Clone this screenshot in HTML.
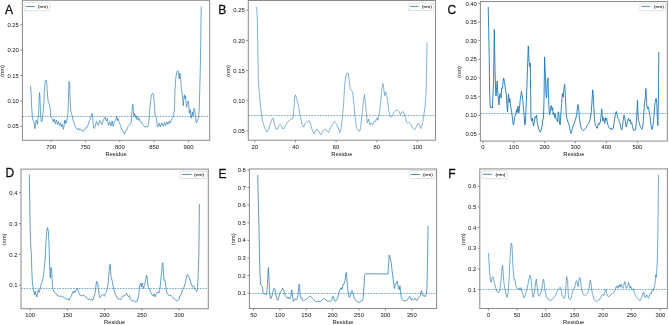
<!DOCTYPE html>
<html><head><meta charset="utf-8"><title>RMSF plots</title>
<style>
html,body{margin:0;padding:0;background:#fff;}
body{width:669px;height:325px;overflow:hidden;}
svg{display:block;will-change:transform;font-family:"Liberation Sans",sans-serif;fill:#111;}
svg text{fill:#111;}
</style></head><body>
<svg width="669" height="325" viewBox="0 0 669 325">
<rect width="669" height="325" fill="#fff"/>
<g><polyline points="30.50,86.10 31.20,95.00 31.70,108.00 32.40,116.80 33.00,120.43 33.70,121.56 34.40,124.14 34.90,128.79 35.60,123.61 36.20,120.15 36.80,121.65 37.40,124.28 38.10,118.20 38.70,112.10 39.10,100.00 39.50,92.60 39.90,96.00 40.20,103.45 40.70,116.10 41.40,121.90 42.20,120.20 42.90,114.80 43.50,106.62 44.00,100.84 44.40,89.80 45.30,80.50 46.30,80.34 46.80,83.30 47.20,89.75 47.60,96.12 48.30,102.70 49.20,103.19 49.90,107.29 50.50,110.87 50.80,116.75 51.70,118.21 52.60,119.13 53.20,122.03 54.10,119.02 55.30,123.77 56.30,119.95 57.50,124.55 58.60,121.58 59.70,125.78 60.60,123.17 61.50,126.92 62.40,124.45 63.40,129.24 64.10,125.88 64.60,120.24 65.20,123.55 65.80,120.63 66.40,122.54 67.10,118.96 67.50,116.84 68.00,112.50 68.40,100.60 69.00,81.50 69.70,84.20 70.10,100.00 70.70,109.70 71.50,114.35 72.20,116.03 72.90,119.57 73.60,121.53 74.40,124.27 75.30,126.47 76.10,128.38 77.00,128.92 77.80,129.77 78.70,128.13 79.60,129.93 80.50,129.40 81.50,129.80 82.40,131.00 83.30,131.60 84.20,129.82 85.20,129.08 86.10,127.43 87.00,127.45 87.90,125.45 88.90,122.42 89.80,120.20 90.70,117.90 91.40,115.31 92.10,113.39 92.50,115.15 93.10,123.70 93.70,127.99 94.40,128.55 95.00,126.60 96.50,121.40 98.20,125.30 99.90,120.40 101.90,124.60 103.40,120.10 105.10,116.90 105.80,119.53 106.60,121.00 107.30,118.38 108.50,125.40 109.80,121.92 111.00,125.92 112.20,120.82 113.20,126.43 114.40,121.67 115.70,120.00 116.50,116.42 117.30,120.65 118.10,118.27 118.80,121.30 120.40,125.40 121.90,129.60 123.30,131.50 124.40,134.03 125.40,131.95 126.50,130.02 127.50,127.87 128.00,126.50 129.40,125.12 130.30,124.15 131.20,122.20 131.70,116.60 132.40,105.50 132.80,104.20 133.20,106.43 133.50,113.90 134.00,115.70 134.50,113.32 134.90,115.09 135.40,116.96 135.80,115.11 136.30,118.37 136.80,119.53 137.20,116.59 138.00,118.42 138.60,120.30 139.10,118.59 140.00,120.88 140.90,122.37 141.90,122.35 142.80,124.67 143.70,125.32 144.60,126.97 145.50,127.42 146.50,126.07 147.40,127.12 148.10,125.70 148.80,122.20 149.40,114.80 150.00,107.40 150.50,101.00 151.30,96.17 152.20,93.67 152.70,93.17 153.60,95.00 154.30,104.29 154.80,111.53 155.20,116.29 155.90,117.24 156.40,117.46 157.30,126.70 158.20,126.32 159.20,123.03 160.30,126.92 161.90,123.10 163.10,126.10 164.50,122.50 165.40,125.50 167.00,121.88 167.90,124.42 169.30,121.10 170.20,123.20 171.20,120.08 172.30,118.55 173.10,117.51 173.70,114.40 174.20,111.06 174.60,105.39 175.00,89.00 176.00,75.83 177.00,71.33 178.00,71.00 178.60,73.88 179.20,79.00 179.80,73.00 180.40,75.00 181.00,84.39 181.40,89.90 182.30,94.20 182.90,101.55 183.30,105.90 183.90,97.88 184.40,94.80 185.00,98.74 185.60,96.10 186.10,102.80 186.60,107.20 187.40,103.30 188.10,101.00 188.80,105.88 189.30,113.30 189.80,109.76 190.30,109.60 190.80,116.87 191.30,118.20 191.90,114.11 192.50,111.84 193.00,116.45 193.60,111.12 194.20,108.28 194.90,111.55 195.50,116.46 196.10,122.01 196.70,122.89 197.40,120.72 198.10,118.51 198.70,115.80 199.20,109.60 199.50,98.68 199.90,85.00 200.40,63.88 200.80,40.00 201.20,6.50" fill="none" stroke="#1f77b4" stroke-width="0.65" stroke-linejoin="round"/><line x1="22.4" y1="116.5" x2="209.7" y2="116.5" stroke="#1f77b4" stroke-width="0.62" stroke-dasharray="1.6 1.15"/><rect x="22.4" y="0.3" width="187.30" height="140.00" fill="none" stroke="#8a8a8a" stroke-width="1.0"/><line x1="20.40" y1="126.20" x2="22.4" y2="126.20" stroke="#8a8a8a" stroke-width="1.0"/><text x="18.90" y="128.31" text-anchor="end" font-size="5.9">0.05</text><line x1="20.40" y1="100.80" x2="22.4" y2="100.80" stroke="#8a8a8a" stroke-width="1.0"/><text x="18.90" y="102.91" text-anchor="end" font-size="5.9">0.10</text><line x1="20.40" y1="75.45" x2="22.4" y2="75.45" stroke="#8a8a8a" stroke-width="1.0"/><text x="18.90" y="77.56" text-anchor="end" font-size="5.9">0.15</text><line x1="20.40" y1="50.10" x2="22.4" y2="50.10" stroke="#8a8a8a" stroke-width="1.0"/><text x="18.90" y="52.21" text-anchor="end" font-size="5.9">0.20</text><line x1="20.40" y1="24.70" x2="22.4" y2="24.70" stroke="#8a8a8a" stroke-width="1.0"/><text x="18.90" y="26.81" text-anchor="end" font-size="5.9">0.25</text><line x1="51.10" y1="140.3" x2="51.10" y2="142.30" stroke="#8a8a8a" stroke-width="1.0"/><text x="51.10" y="148.7" text-anchor="middle" font-size="5.9">700</text><line x1="85.45" y1="140.3" x2="85.45" y2="142.30" stroke="#8a8a8a" stroke-width="1.0"/><text x="85.45" y="148.7" text-anchor="middle" font-size="5.9">750</text><line x1="119.80" y1="140.3" x2="119.80" y2="142.30" stroke="#8a8a8a" stroke-width="1.0"/><text x="119.80" y="148.7" text-anchor="middle" font-size="5.9">800</text><line x1="154.15" y1="140.3" x2="154.15" y2="142.30" stroke="#8a8a8a" stroke-width="1.0"/><text x="154.15" y="148.7" text-anchor="middle" font-size="5.9">850</text><line x1="188.50" y1="140.3" x2="188.50" y2="142.30" stroke="#8a8a8a" stroke-width="1.0"/><text x="188.50" y="148.7" text-anchor="middle" font-size="5.9">900</text><text x="116.05" y="156.1" text-anchor="middle" font-size="5.75">Residue</text><text transform="translate(3.5,70.90) rotate(-90)" x="0" y="0" text-anchor="middle" font-size="5.75">(nm)</text><text transform="translate(4.95,14.1) scale(0.95,1)" font-size="12.7" fill="#000" stroke="#000" stroke-width="0.25">A</text><rect x="24.2" y="2.4" width="25.60" height="8.30" rx="0.8" fill="#fff" fill-opacity="0.8" stroke="#cccccc" stroke-width="0.6"/><line x1="25.8" y1="6.5" x2="34.9" y2="6.5" stroke="#1f77b4" stroke-width="0.8"/><text transform="translate(38.0,8.00) scale(1.25,1)" font-size="3.85" fill="#333" stroke="#333" stroke-width="0.06">(nm)</text></g>
<g><polyline points="256.60,6.90 257.40,20.00 258.30,80.00 259.20,91.10 260.20,104.00 261.50,115.10 262.90,122.50 264.80,128.10 267.00,132.10 268.50,129.90 270.30,123.40 272.20,118.80 273.10,117.90 274.40,124.40 275.90,129.00 277.40,129.00 278.70,125.30 279.90,124.40 281.40,125.80 282.90,129.00 284.20,128.40 285.50,125.80 287.00,122.90 288.80,121.00 290.70,119.20 292.90,118.40 294.00,107.70 294.70,97.60 295.50,94.80 296.60,98.50 298.10,104.00 299.50,112.30 300.80,118.80 302.10,124.40 303.60,127.10 305.10,123.40 306.40,122.10 307.70,121.60 309.10,120.70 310.60,124.40 311.90,129.00 313.80,133.60 315.60,130.80 316.90,129.00 318.40,130.80 319.90,133.60 321.20,134.50 323.00,130.80 324.90,129.00 327.00,130.90 328.70,132.60 330.40,127.70 332.40,124.50 334.40,121.50 336.10,123.50 337.80,126.50 339.80,132.60 341.00,128.90 342.20,119.10 343.50,105.50 344.70,84.60 345.90,76.00 347.20,72.80 348.40,73.50 349.10,79.70 350.10,88.30 351.60,90.80 352.60,92.00 354.00,104.30 355.00,116.60 356.30,126.00 357.70,130.20 359.50,131.40 360.70,127.70 361.90,115.40 363.20,103.10 364.40,94.50 365.40,101.80 366.40,112.90 367.30,122.80 368.80,119.10 370.00,125.20 371.30,122.80 373.00,124.50 374.20,121.00 375.50,121.50 376.70,117.80 377.90,120.30 379.20,114.20 380.40,105.50 381.60,92.00 382.80,83.40 383.60,87.10 384.60,95.70 385.80,92.00 387.00,96.90 388.00,104.30 389.00,111.70 390.20,116.60 391.50,117.00 392.70,115.40 393.90,112.20 395.90,110.50 397.30,110.00 398.80,111.50 400.40,114.60 401.90,112.30 403.00,111.50 404.20,113.80 405.50,117.70 406.50,122.30 407.60,123.50 408.80,122.30 410.40,123.80 411.60,126.20 413.20,128.50 414.70,129.70 415.80,127.70 417.30,124.60 418.40,123.10 419.60,125.40 420.80,128.50 421.90,126.20 423.00,120.80 423.90,114.60 425.00,106.90 425.80,97.70 426.20,90.00 427.00,42.40" fill="none" stroke="#1f77b4" stroke-width="0.55" stroke-linejoin="round"/><line x1="248.3" y1="115.5" x2="435.45" y2="115.5" stroke="#1f77b4" stroke-width="0.62" stroke-dasharray="1.6 1.15"/><rect x="248.3" y="0.5" width="187.15" height="139.70" fill="none" stroke="#8a8a8a" stroke-width="1.0"/><line x1="246.30" y1="10.20" x2="248.3" y2="10.20" stroke="#8a8a8a" stroke-width="1.0"/><text x="244.80" y="12.31" text-anchor="end" font-size="5.9">0.25</text><line x1="246.30" y1="40.40" x2="248.3" y2="40.40" stroke="#8a8a8a" stroke-width="1.0"/><text x="244.80" y="42.51" text-anchor="end" font-size="5.9">0.20</text><line x1="246.30" y1="70.60" x2="248.3" y2="70.60" stroke="#8a8a8a" stroke-width="1.0"/><text x="244.80" y="72.71" text-anchor="end" font-size="5.9">0.15</text><line x1="246.30" y1="100.80" x2="248.3" y2="100.80" stroke="#8a8a8a" stroke-width="1.0"/><text x="244.80" y="102.91" text-anchor="end" font-size="5.9">0.10</text><line x1="246.30" y1="131.00" x2="248.3" y2="131.00" stroke="#8a8a8a" stroke-width="1.0"/><text x="244.80" y="133.11" text-anchor="end" font-size="5.9">0.05</text><line x1="254.80" y1="140.2" x2="254.80" y2="142.20" stroke="#8a8a8a" stroke-width="1.0"/><text x="254.80" y="148.7" text-anchor="middle" font-size="5.9">20</text><line x1="295.45" y1="140.2" x2="295.45" y2="142.20" stroke="#8a8a8a" stroke-width="1.0"/><text x="295.45" y="148.7" text-anchor="middle" font-size="5.9">40</text><line x1="336.10" y1="140.2" x2="336.10" y2="142.20" stroke="#8a8a8a" stroke-width="1.0"/><text x="336.10" y="148.7" text-anchor="middle" font-size="5.9">60</text><line x1="376.75" y1="140.2" x2="376.75" y2="142.20" stroke="#8a8a8a" stroke-width="1.0"/><text x="376.75" y="148.7" text-anchor="middle" font-size="5.9">80</text><line x1="417.40" y1="140.2" x2="417.40" y2="142.20" stroke="#8a8a8a" stroke-width="1.0"/><text x="417.40" y="148.7" text-anchor="middle" font-size="5.9">100</text><text x="341.88" y="156.1" text-anchor="middle" font-size="5.75">Residue</text><text transform="translate(229.5,70.95) rotate(-90)" x="0" y="0" text-anchor="middle" font-size="5.75">(nm)</text><text transform="translate(218.15,14.1) scale(0.95,1)" font-size="12.7" fill="#000" stroke="#000" stroke-width="0.25">B</text><rect x="408.4" y="3.1" width="25.10" height="7.40" rx="0.8" fill="#fff" fill-opacity="0.8" stroke="#cccccc" stroke-width="0.6"/><line x1="409.8" y1="6.4" x2="418.7" y2="6.4" stroke="#1f77b4" stroke-width="0.8"/><text transform="translate(421.9,7.90) scale(1.25,1)" font-size="3.85" fill="#333" stroke="#333" stroke-width="0.06">(nm)</text></g>
<g><polyline points="488.20,6.90 488.70,30.00 488.90,42.20 489.20,55.08 489.60,90.00 490.00,104.00 490.60,108.00 491.60,106.83 492.40,108.00 493.00,94.00 493.60,80.54 494.30,29.40 495.00,69.66 495.60,90.00 496.00,96.00 496.60,87.75 497.20,81.00 497.60,90.06 498.40,100.00 499.00,105.00 499.60,95.31 500.40,93.50 501.00,98.00 501.70,88.00 502.40,88.42 503.00,83.00 503.70,78.00 504.40,81.50 505.00,86.00 505.60,90.44 506.40,95.00 507.00,106.69 507.60,112.00 508.00,99.30 508.60,94.00 509.20,102.50 509.80,98.35 510.40,104.95 511.00,108.00 511.60,111.90 512.20,115.90 512.80,121.45 513.40,125.00 514.00,122.12 514.60,117.50 515.40,115.25 516.00,113.12 516.60,109.38 517.20,112.44 518.00,106.00 518.60,113.00 519.20,111.00 520.00,101.75 520.80,95.88 521.40,91.40 522.20,95.88 523.00,101.83 523.60,110.00 524.40,119.00 524.80,125.00 525.40,122.00 526.00,110.00 526.60,94.05 527.20,77.86 527.60,65.00 528.30,45.90 529.00,60.25 529.60,67.00 530.30,63.10 530.60,89.55 531.00,118.00 531.60,121.00 532.40,118.00 533.00,123.17 533.60,126.00 534.40,120.92 535.20,116.58 536.00,117.94 536.60,115.33 537.20,122.38 538.00,126.08 538.80,129.08 539.60,131.08 540.40,132.25 541.20,130.17 542.00,126.17 542.80,120.00 543.40,118.00 544.00,100.32 544.60,56.90 545.60,81.82 546.00,94.00 546.60,98.00 547.20,82.00 548.00,77.90 548.40,91.45 548.80,104.00 549.40,115.00 550.00,114.00 550.60,107.31 551.40,105.50 552.00,110.12 552.60,107.62 553.20,114.69 554.00,112.58 554.60,117.50 555.40,114.50 556.00,119.25 556.80,119.92 557.60,122.00 558.20,112.00 558.70,111.90 559.50,123.00 560.20,124.80 561.00,111.59 561.70,102.70 562.40,93.50 563.20,97.10 563.90,89.66 564.60,84.20 565.40,95.30 565.90,108.20 566.50,117.40 567.20,119.23 568.00,122.07 568.70,123.83 569.40,126.62 570.20,130.48 570.90,133.47 571.70,131.38 572.40,128.50 573.10,125.62 573.90,123.91 574.60,122.07 575.50,119.38 576.50,115.75 577.20,110.11 577.90,104.50 578.70,107.74 579.40,117.70 580.10,123.08 581.10,127.83 582.00,129.47 582.90,130.52 583.80,130.02 584.80,129.43 585.70,128.57 586.60,126.71 587.50,124.72 588.40,123.98 589.40,122.14 590.30,118.64 591.20,112.12 591.90,103.01 592.70,89.80 593.20,93.50 593.80,108.20 594.50,119.30 595.30,125.35 596.30,126.49 597.10,128.42 597.80,125.80 598.60,123.25 599.40,124.45 600.20,122.09 600.90,117.62 601.70,108.80 602.30,115.76 602.90,121.20 603.50,117.71 604.20,120.54 604.80,123.39 605.40,117.60 606.00,120.41 606.60,118.33 607.20,122.04 607.80,124.54 608.60,126.56 609.40,128.17 610.20,128.92 610.90,127.92 611.70,129.79 612.50,128.79 613.20,128.42 614.00,123.57 614.80,118.03 615.50,113.25 616.30,111.51 617.10,115.00 617.80,118.23 618.60,119.53 619.40,121.90 620.20,124.07 620.90,128.30 621.70,129.98 622.50,126.75 623.20,120.28 624.00,115.22 624.80,117.91 625.50,122.77 626.30,127.07 627.10,123.51 627.80,120.30 628.60,118.13 629.40,121.29 630.20,119.62 630.90,123.83 631.70,122.67 632.50,126.54 633.20,129.64 633.90,130.98 634.80,129.89 635.60,129.74 636.50,120.60 637.00,110.30 637.50,100.30 638.00,113.88 638.50,120.60 639.20,122.47 639.80,125.11 640.50,126.76 641.20,128.27 641.90,129.32 642.60,127.40 643.20,122.72 643.90,112.10 644.60,102.53 645.30,97.11 645.80,88.50 646.30,96.30 646.80,105.40 647.50,108.80 648.10,106.75 648.80,109.54 649.50,113.21 650.20,117.47 650.80,123.72 651.50,128.14 652.20,129.53 652.90,125.84 653.60,120.60 654.20,112.09 654.90,103.70 655.60,99.03 656.30,98.60 656.80,103.70 657.30,117.20 657.80,125.70 658.30,107.10 658.60,80.00 658.80,52.00" fill="none" stroke="#1f77b4" stroke-width="0.9" stroke-linejoin="round"/><line x1="480.4" y1="113.5" x2="667.3" y2="113.5" stroke="#1f77b4" stroke-width="0.62" stroke-dasharray="1.6 1.15"/><rect x="480.4" y="1.5" width="186.90" height="139.60" fill="none" stroke="#8a8a8a" stroke-width="1.0"/><line x1="478.40" y1="3.40" x2="480.4" y2="3.40" stroke="#8a8a8a" stroke-width="1.0"/><text x="476.90" y="5.51" text-anchor="end" font-size="5.9">0.40</text><line x1="478.40" y1="22.06" x2="480.4" y2="22.06" stroke="#8a8a8a" stroke-width="1.0"/><text x="476.90" y="24.17" text-anchor="end" font-size="5.9">0.35</text><line x1="478.40" y1="40.72" x2="480.4" y2="40.72" stroke="#8a8a8a" stroke-width="1.0"/><text x="476.90" y="42.83" text-anchor="end" font-size="5.9">0.30</text><line x1="478.40" y1="59.38" x2="480.4" y2="59.38" stroke="#8a8a8a" stroke-width="1.0"/><text x="476.90" y="61.49" text-anchor="end" font-size="5.9">0.25</text><line x1="478.40" y1="78.04" x2="480.4" y2="78.04" stroke="#8a8a8a" stroke-width="1.0"/><text x="476.90" y="80.15" text-anchor="end" font-size="5.9">0.20</text><line x1="478.40" y1="96.70" x2="480.4" y2="96.70" stroke="#8a8a8a" stroke-width="1.0"/><text x="476.90" y="98.81" text-anchor="end" font-size="5.9">0.15</text><line x1="478.40" y1="115.36" x2="480.4" y2="115.36" stroke="#8a8a8a" stroke-width="1.0"/><text x="476.90" y="117.47" text-anchor="end" font-size="5.9">0.10</text><line x1="478.40" y1="134.02" x2="480.4" y2="134.02" stroke="#8a8a8a" stroke-width="1.0"/><text x="476.90" y="136.13" text-anchor="end" font-size="5.9">0.05</text><line x1="482.90" y1="141.1" x2="482.90" y2="143.10" stroke="#8a8a8a" stroke-width="1.0"/><text x="482.90" y="148.7" text-anchor="middle" font-size="5.9">0</text><line x1="513.78" y1="141.1" x2="513.78" y2="143.10" stroke="#8a8a8a" stroke-width="1.0"/><text x="513.78" y="148.7" text-anchor="middle" font-size="5.9">100</text><line x1="544.66" y1="141.1" x2="544.66" y2="143.10" stroke="#8a8a8a" stroke-width="1.0"/><text x="544.66" y="148.7" text-anchor="middle" font-size="5.9">200</text><line x1="575.54" y1="141.1" x2="575.54" y2="143.10" stroke="#8a8a8a" stroke-width="1.0"/><text x="575.54" y="148.7" text-anchor="middle" font-size="5.9">300</text><line x1="606.42" y1="141.1" x2="606.42" y2="143.10" stroke="#8a8a8a" stroke-width="1.0"/><text x="606.42" y="148.7" text-anchor="middle" font-size="5.9">400</text><line x1="637.30" y1="141.1" x2="637.30" y2="143.10" stroke="#8a8a8a" stroke-width="1.0"/><text x="637.30" y="148.7" text-anchor="middle" font-size="5.9">500</text><text x="573.85" y="156.1" text-anchor="middle" font-size="5.75">Residue</text><text transform="translate(461.2,71.90) rotate(-90)" x="0" y="0" text-anchor="middle" font-size="5.75">(nm)</text><text transform="translate(447.55,14.4) scale(0.95,1)" font-size="12.7" fill="#000" stroke="#000" stroke-width="0.25">C</text><rect x="640.0" y="3.2" width="25.60" height="7.40" rx="0.8" fill="#fff" fill-opacity="0.8" stroke="#cccccc" stroke-width="0.6"/><line x1="641.4" y1="6.4" x2="650.3" y2="6.4" stroke="#1f77b4" stroke-width="0.8"/><text transform="translate(654.0,7.90) scale(1.25,1)" font-size="3.85" fill="#333" stroke="#333" stroke-width="0.06">(nm)</text></g>
<g><polyline points="29.30,174.20 30.20,230.00 30.80,247.10 31.40,254.30 31.80,270.40 32.50,284.20 33.40,288.64 34.50,295.00 35.20,291.36 36.00,294.20 36.80,297.03 37.50,293.51 38.30,289.94 39.10,292.28 39.80,289.75 40.60,285.65 41.40,283.43 42.20,282.05 42.90,279.02 43.70,273.74 44.50,265.80 45.20,258.94 46.00,241.59 46.80,230.00 47.60,227.60 48.40,231.44 48.90,241.70 49.80,270.40 50.30,278.10 50.90,267.95 51.40,267.30 51.80,273.39 52.50,285.80 53.10,289.75 54.00,292.05 55.20,292.63 56.50,294.19 57.50,295.94 58.60,296.00 59.80,296.23 61.30,296.20 62.90,296.80 64.50,297.71 65.70,298.34 66.80,299.80 67.80,298.61 69.10,300.22 70.30,297.79 71.40,295.83 72.20,293.43 72.90,291.66 73.70,292.93 74.50,290.97 75.20,292.24 76.00,290.40 76.80,288.67 77.50,288.20 78.30,291.24 79.10,293.55 80.20,295.43 81.40,295.90 82.60,295.23 84.20,295.70 85.20,296.49 86.30,297.27 87.20,298.39 88.30,299.80 89.40,298.61 90.60,300.04 91.80,299.54 92.90,300.27 94.00,296.46 94.90,293.97 96.00,285.69 96.50,281.37 97.10,283.18 97.70,283.27 98.30,288.33 99.10,294.50 99.80,297.69 101.10,296.60 102.20,294.49 103.20,294.95 104.50,296.11 105.40,293.50 106.50,291.28 107.40,288.33 108.20,282.70 108.90,273.97 109.50,267.30 110.20,264.20 110.60,270.64 111.10,276.50 112.00,280.25 113.10,285.88 114.20,290.48 115.40,294.77 116.90,297.30 118.50,299.38 119.70,298.70 120.80,299.55 121.80,297.25 122.80,295.61 123.80,296.33 124.60,295.27 125.80,294.76 126.50,293.20 127.40,295.36 128.50,296.69 129.50,295.43 130.50,298.94 131.50,300.64 133.10,300.80 134.60,301.20 136.20,302.12 137.20,300.48 138.20,298.10 138.80,294.26 139.40,287.24 140.00,284.20 140.80,283.13 141.50,287.10 142.20,282.97 142.80,285.80 143.50,288.56 144.30,285.80 144.90,283.66 145.70,279.67 146.50,275.00 147.10,276.84 147.70,284.20 148.50,287.53 149.20,287.95 150.00,290.40 150.80,292.70 152.00,295.15 153.10,296.04 154.20,293.81 155.10,296.96 156.20,294.12 157.20,292.63 158.20,291.74 158.90,293.01 159.70,290.40 160.30,285.80 160.90,278.78 161.50,272.82 162.30,264.20 162.80,262.70 163.40,270.08 164.00,280.40 164.60,279.59 165.20,281.89 165.80,286.15 166.50,291.51 167.40,293.58 168.50,295.23 170.00,295.23 171.10,295.75 172.30,296.77 173.50,298.11 174.60,299.36 175.70,299.87 176.90,301.01 178.20,299.56 179.20,298.96 179.70,296.04 181.20,294.30 182.50,290.00 184.00,287.18 185.10,283.61 186.20,279.20 187.20,274.36 188.30,275.90 189.40,277.99 190.50,281.29 191.60,284.72 192.60,286.95 193.70,286.00 194.80,288.99 195.90,290.68 196.90,291.50 197.60,287.80 198.20,273.80 198.90,252.20 199.40,204.10" fill="none" stroke="#1f77b4" stroke-width="0.7" stroke-linejoin="round"/><line x1="21.0" y1="288.5" x2="208.3" y2="288.5" stroke="#1f77b4" stroke-width="0.62" stroke-dasharray="1.6 1.15"/><rect x="21.0" y="169.1" width="187.30" height="139.60" fill="none" stroke="#8a8a8a" stroke-width="1.0"/><line x1="19.00" y1="192.80" x2="21.0" y2="192.80" stroke="#8a8a8a" stroke-width="1.0"/><text x="17.50" y="194.91" text-anchor="end" font-size="5.9">0.4</text><line x1="19.00" y1="223.60" x2="21.0" y2="223.60" stroke="#8a8a8a" stroke-width="1.0"/><text x="17.50" y="225.71" text-anchor="end" font-size="5.9">0.3</text><line x1="19.00" y1="254.40" x2="21.0" y2="254.40" stroke="#8a8a8a" stroke-width="1.0"/><text x="17.50" y="256.51" text-anchor="end" font-size="5.9">0.2</text><line x1="19.00" y1="285.20" x2="21.0" y2="285.20" stroke="#8a8a8a" stroke-width="1.0"/><text x="17.50" y="287.31" text-anchor="end" font-size="5.9">0.1</text><line x1="30.20" y1="308.7" x2="30.20" y2="310.70" stroke="#8a8a8a" stroke-width="1.0"/><text x="30.20" y="317.0" text-anchor="middle" font-size="5.9">100</text><line x1="67.45" y1="308.7" x2="67.45" y2="310.70" stroke="#8a8a8a" stroke-width="1.0"/><text x="67.45" y="317.0" text-anchor="middle" font-size="5.9">150</text><line x1="104.70" y1="308.7" x2="104.70" y2="310.70" stroke="#8a8a8a" stroke-width="1.0"/><text x="104.70" y="317.0" text-anchor="middle" font-size="5.9">200</text><line x1="141.95" y1="308.7" x2="141.95" y2="310.70" stroke="#8a8a8a" stroke-width="1.0"/><text x="141.95" y="317.0" text-anchor="middle" font-size="5.9">250</text><line x1="179.20" y1="308.7" x2="179.20" y2="310.70" stroke="#8a8a8a" stroke-width="1.0"/><text x="179.20" y="317.0" text-anchor="middle" font-size="5.9">300</text><text x="114.65" y="324.4" text-anchor="middle" font-size="5.75">Residue</text><text transform="translate(5.8,239.50) rotate(-90)" x="0" y="0" text-anchor="middle" font-size="5.75">(nm)</text><text transform="translate(5.40,176.9) scale(0.95,1)" font-size="12.7" fill="#000" stroke="#000" stroke-width="0.25">D</text><rect x="180.0" y="171.0" width="26.70" height="7.50" rx="0.8" fill="#fff" fill-opacity="0.8" stroke="#cccccc" stroke-width="0.6"/><line x1="181.9" y1="174.4" x2="191.7" y2="174.4" stroke="#1f77b4" stroke-width="0.8"/><text transform="translate(194.2,175.90) scale(1.25,1)" font-size="3.85" fill="#333" stroke="#333" stroke-width="0.06">(nm)</text></g>
<g><polyline points="257.70,174.80 258.80,220.00 259.60,260.09 260.00,273.90 260.60,284.90 261.70,285.53 262.40,286.59 263.10,292.91 264.20,294.00 265.20,294.31 266.10,294.90 267.00,291.90 267.50,282.20 268.10,271.10 268.50,267.60 268.90,276.60 269.50,290.50 270.00,296.00 270.70,298.88 271.40,297.54 272.10,295.37 272.80,292.49 273.50,289.67 274.20,288.19 274.90,288.83 275.50,292.49 276.20,296.07 276.90,298.94 277.60,300.41 278.30,299.71 279.00,296.70 279.70,293.82 280.40,291.77 281.10,291.27 281.80,289.80 282.70,288.12 283.60,289.60 284.50,293.33 285.20,295.37 285.90,296.77 286.60,297.50 287.30,296.97 288.00,298.27 288.70,297.19 289.40,299.01 290.10,298.62 290.80,296.57 291.30,292.07 291.80,289.80 292.20,293.09 292.90,298.80 293.60,301.32 294.20,299.43 294.90,298.54 296.00,299.64 297.00,299.08 298.00,295.30 298.50,289.97 299.10,284.20 299.60,287.70 300.20,294.60 300.80,298.28 301.60,297.96 302.60,300.34 303.50,301.04 304.60,300.20 305.70,299.47 306.70,299.16 307.70,298.10 308.80,297.08 309.90,296.18 310.90,296.64 311.80,297.69 312.90,298.80 314.00,299.91 315.00,301.05 316.40,301.60 317.80,301.60 319.20,301.30 320.60,301.81 321.90,300.17 322.90,299.05 324.00,298.38 325.10,299.05 326.10,300.37 327.50,300.90 328.90,301.30 330.30,301.30 331.60,300.45 332.40,296.74 333.20,296.32 334.00,299.04 335.00,301.30 336.40,300.30 337.60,298.10 338.40,295.00 339.20,291.90 340.00,290.00 341.00,287.70 342.00,289.50 343.00,284.70 344.00,284.30 345.00,280.57 345.60,275.82 346.20,272.40 346.80,277.82 347.60,288.40 348.40,294.30 349.20,297.40 350.00,296.20 351.00,292.90 352.00,290.60 353.00,292.80 354.00,297.20 355.00,299.30 356.40,301.00 358.00,302.00 359.60,302.40 361.00,301.00 362.40,300.45 363.20,297.80 364.00,285.90 364.60,275.20 365.40,273.70 388.00,274.00 388.60,263.90 389.20,255.00 390.00,256.70 391.00,261.70 392.00,270.00 393.00,278.00 394.00,286.60 394.60,288.60 395.40,283.65 396.20,283.61 397.20,281.14 397.80,284.04 398.40,288.75 399.30,289.83 399.90,285.72 400.50,291.27 401.20,296.80 401.90,298.87 403.00,300.52 404.20,300.86 405.50,300.34 406.50,300.96 407.60,299.63 408.50,298.11 409.60,296.26 410.40,297.15 411.20,299.91 411.90,298.64 412.70,299.65 413.50,299.99 414.20,299.33 415.00,298.19 415.80,299.64 416.80,300.64 417.80,298.79 418.80,297.26 419.60,296.21 420.40,295.43 421.20,291.55 421.60,290.64 422.40,294.48 423.20,296.01 424.20,295.13 425.00,296.77 425.80,295.58 426.50,293.50 427.00,287.30 427.30,270.40 427.60,255.00 428.10,225.50" fill="none" stroke="#1f77b4" stroke-width="0.72" stroke-linejoin="round"/><line x1="249.4" y1="293.5" x2="436.6" y2="293.5" stroke="#1f77b4" stroke-width="0.62" stroke-dasharray="1.6 1.15"/><rect x="249.4" y="169.0" width="187.20" height="139.50" fill="none" stroke="#8a8a8a" stroke-width="1.0"/><line x1="247.40" y1="169.90" x2="249.4" y2="169.90" stroke="#8a8a8a" stroke-width="1.0"/><text x="245.90" y="172.01" text-anchor="end" font-size="5.9">0.8</text><line x1="247.40" y1="187.51" x2="249.4" y2="187.51" stroke="#8a8a8a" stroke-width="1.0"/><text x="245.90" y="189.62" text-anchor="end" font-size="5.9">0.7</text><line x1="247.40" y1="205.12" x2="249.4" y2="205.12" stroke="#8a8a8a" stroke-width="1.0"/><text x="245.90" y="207.23" text-anchor="end" font-size="5.9">0.6</text><line x1="247.40" y1="222.73" x2="249.4" y2="222.73" stroke="#8a8a8a" stroke-width="1.0"/><text x="245.90" y="224.84" text-anchor="end" font-size="5.9">0.5</text><line x1="247.40" y1="240.34" x2="249.4" y2="240.34" stroke="#8a8a8a" stroke-width="1.0"/><text x="245.90" y="242.45" text-anchor="end" font-size="5.9">0.4</text><line x1="247.40" y1="257.95" x2="249.4" y2="257.95" stroke="#8a8a8a" stroke-width="1.0"/><text x="245.90" y="260.06" text-anchor="end" font-size="5.9">0.3</text><line x1="247.40" y1="275.56" x2="249.4" y2="275.56" stroke="#8a8a8a" stroke-width="1.0"/><text x="245.90" y="277.67" text-anchor="end" font-size="5.9">0.2</text><line x1="247.40" y1="293.17" x2="249.4" y2="293.17" stroke="#8a8a8a" stroke-width="1.0"/><text x="245.90" y="295.28" text-anchor="end" font-size="5.9">0.1</text><line x1="253.50" y1="308.5" x2="253.50" y2="310.50" stroke="#8a8a8a" stroke-width="1.0"/><text x="253.50" y="317.0" text-anchor="middle" font-size="5.9">50</text><line x1="279.88" y1="308.5" x2="279.88" y2="310.50" stroke="#8a8a8a" stroke-width="1.0"/><text x="279.88" y="317.0" text-anchor="middle" font-size="5.9">100</text><line x1="306.26" y1="308.5" x2="306.26" y2="310.50" stroke="#8a8a8a" stroke-width="1.0"/><text x="306.26" y="317.0" text-anchor="middle" font-size="5.9">150</text><line x1="332.64" y1="308.5" x2="332.64" y2="310.50" stroke="#8a8a8a" stroke-width="1.0"/><text x="332.64" y="317.0" text-anchor="middle" font-size="5.9">200</text><line x1="359.02" y1="308.5" x2="359.02" y2="310.50" stroke="#8a8a8a" stroke-width="1.0"/><text x="359.02" y="317.0" text-anchor="middle" font-size="5.9">250</text><line x1="385.40" y1="308.5" x2="385.40" y2="310.50" stroke="#8a8a8a" stroke-width="1.0"/><text x="385.40" y="317.0" text-anchor="middle" font-size="5.9">300</text><line x1="411.78" y1="308.5" x2="411.78" y2="310.50" stroke="#8a8a8a" stroke-width="1.0"/><text x="411.78" y="317.0" text-anchor="middle" font-size="5.9">350</text><text x="343.00" y="324.4" text-anchor="middle" font-size="5.75">Residue</text><text transform="translate(234.5,239.35) rotate(-90)" x="0" y="0" text-anchor="middle" font-size="5.75">(nm)</text><text transform="translate(218.45,178.1) scale(0.95,1)" font-size="12.7" fill="#000" stroke="#000" stroke-width="0.25">E</text><rect x="409.2" y="170.5" width="26.00" height="8.00" rx="0.8" fill="#fff" fill-opacity="0.8" stroke="#cccccc" stroke-width="0.6"/><line x1="410.5" y1="174.5" x2="419.8" y2="174.5" stroke="#1f77b4" stroke-width="0.8"/><text transform="translate(422.9,176.00) scale(1.25,1)" font-size="3.85" fill="#333" stroke="#333" stroke-width="0.06">(nm)</text></g>
<g><polyline points="488.40,253.00 489.00,261.93 489.60,272.00 490.40,280.40 491.20,282.40 492.00,277.80 493.00,276.67 494.00,281.00 495.00,285.00 496.00,289.09 497.00,291.72 498.00,292.48 499.00,292.17 500.00,289.40 501.00,280.20 502.00,268.00 502.60,265.47 503.20,271.95 504.00,283.33 505.00,289.07 506.00,294.13 507.00,297.40 508.00,294.00 509.00,280.40 510.00,259.60 510.80,245.45 511.40,243.00 512.00,245.45 512.60,260.00 513.40,272.33 514.00,279.40 515.00,279.67 516.00,286.27 517.00,288.07 518.00,289.13 519.00,287.80 520.00,290.27 521.00,287.60 522.00,292.07 523.00,295.03 524.00,297.88 525.00,296.09 526.00,293.07 527.00,289.07 528.00,284.00 529.00,278.89 530.00,275.21 530.80,277.63 531.60,286.00 532.40,294.33 533.20,297.40 534.00,294.20 535.00,288.00 535.60,281.80 536.40,279.00 537.00,285.93 538.00,294.40 539.00,296.24 540.00,294.45 541.00,292.11 542.00,288.27 543.00,279.47 543.60,279.67 544.40,284.93 545.20,291.13 546.00,295.07 547.00,298.13 548.00,299.10 549.60,300.00 551.00,300.40 552.50,299.24 553.70,297.56 555.10,295.96 556.40,293.09 557.60,290.52 558.80,289.33 559.80,287.46 560.50,287.57 561.20,290.53 561.80,294.69 562.70,296.59 563.50,297.41 564.40,298.48 565.20,295.31 566.10,283.84 566.60,276.51 567.10,278.80 567.60,280.50 568.10,292.30 568.60,298.20 569.50,299.14 570.60,299.67 571.70,295.73 572.70,291.39 573.70,288.78 574.50,288.33 575.40,283.68 576.20,281.07 576.70,280.57 577.40,283.94 578.10,286.91 578.80,281.19 579.60,277.50 580.50,279.92 581.10,285.55 581.80,290.31 582.70,293.21 583.50,294.85 584.70,295.82 585.90,294.79 586.90,294.06 588.10,292.41 588.90,289.01 589.60,283.75 590.30,280.11 590.90,282.79 591.60,289.01 592.30,293.21 593.10,295.65 594.00,299.21 595.30,300.86 596.50,301.71 597.70,300.72 599.10,300.07 600.40,298.25 601.60,295.63 602.80,294.14 603.80,295.62 605.00,291.36 605.80,289.47 606.70,293.15 607.50,295.96 608.90,296.62 610.10,295.29 611.30,294.20 612.60,293.70 614.00,292.49 615.00,290.48 615.80,287.15 616.50,286.34 617.30,288.36 618.10,285.55 618.80,287.55 619.60,284.75 620.40,286.75 621.20,283.84 621.90,287.45 623.00,288.36 623.90,285.00 624.70,281.54 625.50,284.09 626.20,288.41 627.00,287.35 627.80,285.91 628.50,282.34 629.30,284.95 630.10,288.41 630.80,286.24 631.60,288.90 632.40,289.71 633.20,288.59 633.90,291.21 634.70,293.53 635.50,295.29 636.50,297.33 637.80,298.83 638.80,299.91 639.90,300.94 640.80,299.67 641.60,297.30 642.40,295.00 643.20,292.43 643.90,292.49 644.50,296.01 645.30,298.02 646.10,296.51 646.80,294.80 647.60,296.49 648.40,298.31 649.20,296.55 649.90,294.15 650.70,292.66 651.30,293.71 651.90,291.09 652.70,289.44 653.50,290.66 654.20,287.76 655.00,283.16 655.50,279.83 655.80,274.66 656.20,277.30 656.80,269.16 657.30,261.20 657.80,240.00 658.50,174.80" fill="none" stroke="#1f77b4" stroke-width="0.62" stroke-linejoin="round"/><line x1="479.8" y1="289.5" x2="667.4" y2="289.5" stroke="#1f77b4" stroke-width="0.62" stroke-dasharray="1.6 1.15"/><rect x="479.8" y="168.9" width="187.60" height="139.60" fill="none" stroke="#8a8a8a" stroke-width="1.0"/><line x1="477.80" y1="186.30" x2="479.8" y2="186.30" stroke="#8a8a8a" stroke-width="1.0"/><text x="476.30" y="188.41" text-anchor="end" font-size="5.9">0.6</text><line x1="477.80" y1="206.96" x2="479.8" y2="206.96" stroke="#8a8a8a" stroke-width="1.0"/><text x="476.30" y="209.07" text-anchor="end" font-size="5.9">0.5</text><line x1="477.80" y1="227.62" x2="479.8" y2="227.62" stroke="#8a8a8a" stroke-width="1.0"/><text x="476.30" y="229.73" text-anchor="end" font-size="5.9">0.4</text><line x1="477.80" y1="248.28" x2="479.8" y2="248.28" stroke="#8a8a8a" stroke-width="1.0"/><text x="476.30" y="250.39" text-anchor="end" font-size="5.9">0.3</text><line x1="477.80" y1="268.94" x2="479.8" y2="268.94" stroke="#8a8a8a" stroke-width="1.0"/><text x="476.30" y="271.05" text-anchor="end" font-size="5.9">0.2</text><line x1="477.80" y1="289.60" x2="479.8" y2="289.60" stroke="#8a8a8a" stroke-width="1.0"/><text x="476.30" y="291.71" text-anchor="end" font-size="5.9">0.1</text><line x1="488.40" y1="308.5" x2="488.40" y2="310.50" stroke="#8a8a8a" stroke-width="1.0"/><text x="488.40" y="317.0" text-anchor="middle" font-size="5.9">0</text><line x1="517.05" y1="308.5" x2="517.05" y2="310.50" stroke="#8a8a8a" stroke-width="1.0"/><text x="517.05" y="317.0" text-anchor="middle" font-size="5.9">50</text><line x1="545.70" y1="308.5" x2="545.70" y2="310.50" stroke="#8a8a8a" stroke-width="1.0"/><text x="545.70" y="317.0" text-anchor="middle" font-size="5.9">100</text><line x1="574.35" y1="308.5" x2="574.35" y2="310.50" stroke="#8a8a8a" stroke-width="1.0"/><text x="574.35" y="317.0" text-anchor="middle" font-size="5.9">150</text><line x1="603.00" y1="308.5" x2="603.00" y2="310.50" stroke="#8a8a8a" stroke-width="1.0"/><text x="603.00" y="317.0" text-anchor="middle" font-size="5.9">200</text><line x1="631.65" y1="308.5" x2="631.65" y2="310.50" stroke="#8a8a8a" stroke-width="1.0"/><text x="631.65" y="317.0" text-anchor="middle" font-size="5.9">250</text><line x1="660.30" y1="308.5" x2="660.30" y2="310.50" stroke="#8a8a8a" stroke-width="1.0"/><text x="660.30" y="317.0" text-anchor="middle" font-size="5.9">300</text><text x="573.60" y="324.4" text-anchor="middle" font-size="5.75">Residue</text><text transform="translate(464.5,239.30) rotate(-90)" x="0" y="0" text-anchor="middle" font-size="5.75">(nm)</text><text transform="translate(448.15,178.1) scale(0.95,1)" font-size="12.7" fill="#000" stroke="#000" stroke-width="0.25">F</text><rect x="481.9" y="170.8" width="25.10" height="7.90" rx="0.8" fill="#fff" fill-opacity="0.8" stroke="#cccccc" stroke-width="0.6"/><line x1="482.9" y1="174.3" x2="492.3" y2="174.3" stroke="#1f77b4" stroke-width="0.8"/><text transform="translate(495.5,175.80) scale(1.25,1)" font-size="3.85" fill="#333" stroke="#333" stroke-width="0.06">(nm)</text></g>
</svg>
</body></html>
